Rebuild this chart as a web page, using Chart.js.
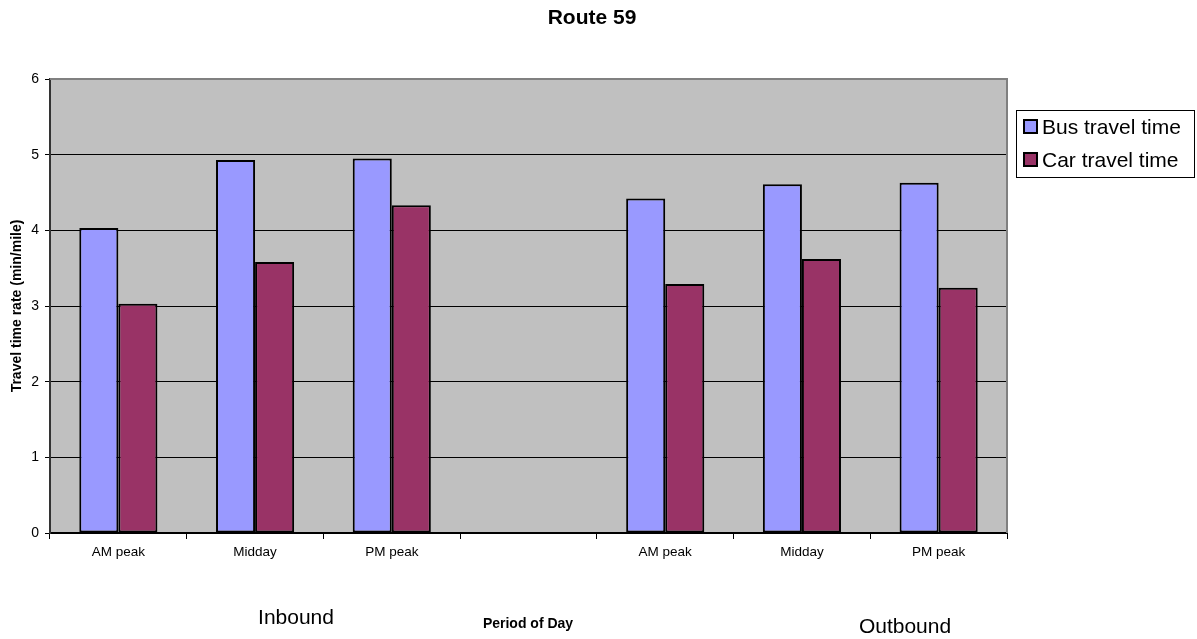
<!DOCTYPE html>
<html>
<head>
<meta charset="utf-8">
<script src="https://cdn.jsdelivr.net/npm/chart.js@4.4.0/dist/chart.umd.min.js"></script>
<style>
  html, body { margin: 0; padding: 0; background: #ffffff; }
  #wrap { width: 1197px; height: 639px; position: relative; }
</style>
</head>
<body>
<div id="wrap"><canvas id="c" width="1197" height="639"></canvas></div>
<script>
const chartTitle = 'Route 59';
const yAxisTitle = 'Travel time rate (min/mile)';
const xAxisTitle = 'Period of Day';
const groupLabels = ['Inbound', 'Outbound'];
const categories = ['AM peak', 'Midday', 'PM peak', '', 'AM peak', 'Midday', 'PM peak'];
const busTravelTime = [4.03, 4.93, 4.95, null, 4.42, 4.61, 4.63];
const carTravelTime = [3.03, 3.58, 4.33, null, 3.29, 3.62, 3.24];
const seriesNames = ['Bus travel time', 'Car travel time'];
const yMin = 0, yMax = 6, yStep = 1;

const FONT = '"Liberation Sans", Arial, sans-serif';
const BUS_COLOR = '#9999FF';
const CAR_COLOR = '#993366';

const plotBackground = {
  id: 'plotBackground',
  beforeDraw(chart) {
    const { ctx, chartArea: a } = chart;
    ctx.save();
    ctx.fillStyle = '#C0C0C0';
    ctx.fillRect(a.left, a.top, a.right - a.left, a.bottom - a.top);
    ctx.restore();
  },
  afterDatasetsDraw(chart) {
    const { ctx, chartArea: a } = chart;
    ctx.save();
    ctx.strokeStyle = '#808080';
    ctx.lineWidth = 2;
    ctx.beginPath();
    ctx.moveTo(a.left, a.top);
    ctx.lineTo(a.right, a.top);
    ctx.lineTo(a.right, a.bottom);
    ctx.stroke();
    ctx.restore();
  }
};

const annotations = {
  id: 'annotations',
  afterDraw(chart) {
    const { ctx } = chart;
    ctx.save();
    ctx.fillStyle = '#000';
    ctx.textAlign = 'center';
    ctx.textBaseline = 'middle';
    ctx.font = 'bold 21px ' + FONT;
    ctx.fillText(chartTitle, 592, 18);

    ctx.save();
    ctx.translate(17, 306);
    ctx.rotate(-Math.PI / 2);
    ctx.font = 'bold 14px ' + FONT;
    ctx.fillText(yAxisTitle, 0, 0);
    ctx.restore();

    ctx.font = '21px ' + FONT;
    ctx.fillText(groupLabels[0], 296, 618);
    ctx.fillText(groupLabels[1], 905, 627);
    ctx.font = 'bold 14px ' + FONT;
    ctx.fillText(xAxisTitle, 528, 624);

    // legend box
    const lx = 1016, ly = 110, lw = 178, lh = 67;
    ctx.fillStyle = '#fff';
    ctx.fillRect(lx, ly, lw, lh);
    ctx.strokeStyle = '#000';
    ctx.lineWidth = 1;
    ctx.strokeRect(lx + 0.5, ly + 0.5, lw, lh);
    const ds = chart.data.datasets;
    const rows = [127, 160];
    ds.forEach((d, i) => {
      const cy = rows[i];
      ctx.fillStyle = d.backgroundColor;
      ctx.fillRect(1024, cy - 7, 13, 13);
      ctx.strokeStyle = '#000';
      ctx.lineWidth = 2;
      ctx.strokeRect(1024, cy - 7, 13, 13);
      ctx.fillStyle = '#000';
      ctx.textAlign = 'left';
      ctx.font = '21px ' + FONT;
      ctx.fillText(d.label, 1042, cy + 1);
    });
    ctx.restore();
  }
};

new Chart(document.getElementById('c'), {
  type: 'bar',
  data: {
    labels: categories,
    datasets: [
      { label: seriesNames[0], data: busTravelTime, backgroundColor: BUS_COLOR,
        borderColor: '#000', borderWidth: 2, borderSkipped: false },
      { label: seriesNames[1], data: carTravelTime, backgroundColor: CAR_COLOR,
        borderColor: '#000', borderWidth: 2, borderSkipped: false }
    ]
  },
  options: {
    responsive: false,
    animation: false,
    devicePixelRatio: 1,
    categoryPercentage: 0.5714,
    barPercentage: 1.0,
    layout: { padding: { left: 0, top: 79, right: 190, bottom: 0 } },
    plugins: { legend: { display: false }, title: { display: false }, tooltip: { enabled: false } },
    scales: {
      x: {
        offset: true,
        grid: { offset: true, drawOnChartArea: false, drawTicks: true, tickLength: 6, tickColor: '#000', lineWidth: 1 },
        border: { color: '#000', width: 2 },
        ticks: { color: '#000', font: { family: FONT, size: 13.5 }, padding: 5, maxRotation: 0, autoSkip: false },
        afterFit(scale) { scale.height = 106; }
      },
      y: {
        min: yMin, max: yMax,
        grid: {
          color: (c) => (c.tick && c.tick.value === yMax ? 'rgba(0,0,0,0)' : '#000'),
          lineWidth: 1, drawTicks: true, tickLength: 5, tickColor: '#000'
        },
        border: { color: '#333', width: 2 },
        ticks: { stepSize: yStep, color: '#000', font: { family: FONT, size: 14 }, padding: 6 },
        afterFit(scale) { scale.width = 50; }
      }
    }
  },
  plugins: [plotBackground, annotations]
});
</script>
</body>
</html>
